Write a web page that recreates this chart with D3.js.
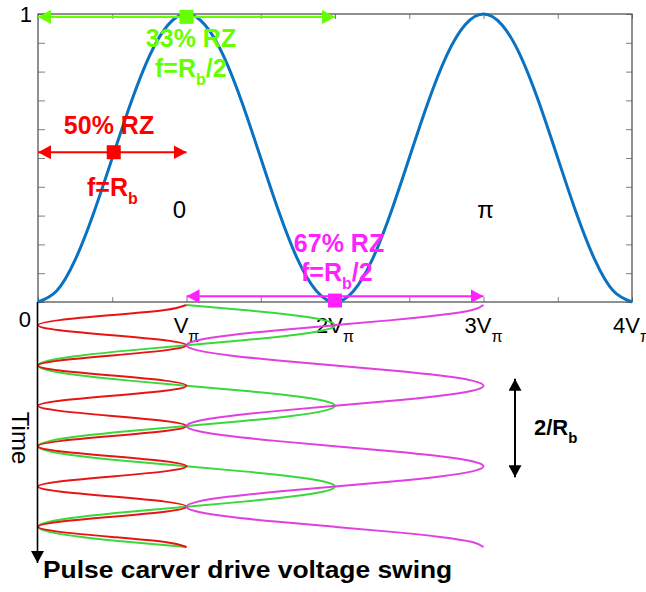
<!DOCTYPE html>
<html><head><meta charset="utf-8">
<script src="https://cdn.jsdelivr.net/npm/d3@7"></script>
<style>html,body{margin:0;padding:0;background:#fff;} svg{display:block;font-family:"Liberation Sans",Arial,sans-serif;}</style>
</head><body><svg id="c" width="646" height="592"></svg>
<script>
// ---- data: transfer function (drive voltage in units of Vpi -> normalised transmission)
const biasVoltage = [0,0.125,0.25,0.375,0.5,0.625,0.75,0.875,1,1.125,1.25,1.375,1.5,1.625,1.75,1.875,2,
  2.125,2.25,2.375,2.5,2.625,2.75,2.875,3,3.125,3.25,3.375,3.5,3.625,3.75,3.875,4];
const transmission = [0,0.038,0.146,0.309,0.5,0.691,0.854,0.962,1,0.962,0.854,0.691,0.5,0.309,0.146,0.038,0,
  0.038,0.146,0.309,0.5,0.691,0.854,0.962,1,0.962,0.854,0.691,0.5,0.309,0.146,0.038,0];

// ---- data: drive signals vs time (time in units of 1/Rb, voltage in units of Vpi)
const timeSamples = [0,0.125,0.25,0.375,0.5,0.625,0.75,0.875,1,1.125,1.25,1.375,1.5,1.625,1.75,1.875,
  2,2.125,2.25,2.375,2.5,2.625,2.75,2.875,3,3.125,3.25,3.375,3.5,3.625,3.75,3.875,
  4,4.125,4.25,4.375,4.5,4.625,4.75,4.875,5,5.125,5.25,5.375,5.5,5.625,5.75,5.875,6];
const drive50 = [1,0.854,0.5,0.146,0,0.146,0.5,0.854, 1,0.854,0.5,0.146,0,0.146,0.5,0.854,
  1,0.854,0.5,0.146,0,0.146,0.5,0.854, 1,0.854,0.5,0.146,0,0.146,0.5,0.854,
  1,0.854,0.5,0.146,0,0.146,0.5,0.854, 1,0.854,0.5,0.146,0,0.146,0.5,0.854, 1];
const drive33 = [1,1.383,1.707,1.924,2,1.924,1.707,1.383,1,0.617,0.293,0.076,0,0.076,0.293,0.617,
  1,1.383,1.707,1.924,2,1.924,1.707,1.383,1,0.617,0.293,0.076,0,0.076,0.293,0.617,
  1,1.383,1.707,1.924,2,1.924,1.707,1.383,1,0.617,0.293,0.076,0,0.076,0.293,0.617, 1];
const drive67 = [3,2.924,2.707,2.383,2,1.617,1.293,1.076,1,1.076,1.293,1.617,2,2.383,2.707,2.924,
  3,2.924,2.707,2.383,2,1.617,1.293,1.076,1,1.076,1.293,1.617,2,2.383,2.707,2.924,
  3,2.924,2.707,2.383,2,1.617,1.293,1.076,1,1.076,1.293,1.617,2,2.383,2.707,2.924, 3];

// ---- data: tick labels
const xTickValues = [0,1,2,3,4];
const xTickMain = ["0","V","2V","3V","4V"];
const xTickSub = ["","π","π","π","π"];
const yTickLabels = ["1"];

// ---- data: operating points (bias, transmission) and swing ranges
const opNames = ["33% RZ","50% RZ","67% RZ"];
const opFreq = ["Rb/2","Rb","Rb/2"];
const opBias = [1,0.51,2];
const opLevel = [0.99,0.52,0.005];
const swingFrom = [0,0,1];
const swingTo = [2,1,3];
const swingLevel = [0.99,0.52,0.02];

const svg = d3.select("#c");
const x = d3.scaleLinear().domain([0,4]).range([38,632]);
const y = d3.scaleLinear().domain([0,1]).range([302,14]);
const t = d3.scaleLinear().domain([0,6]).range([305,547]);

const cBlue = "#0a72c0", cGreenA = "#66ff00", cRedA = "#ff0000", cMagA = "#ff22ff";
const cGreenT = "#3ad83a", cRedT = "#e81414", cMagT = "#e040e0";

// defs: arrowheads
const defs = svg.append("defs");
function marker(id, color, len, wid){
  defs.append("marker").attr("id",id).attr("markerUnits","userSpaceOnUse")
    .attr("viewBox",`0 0 ${len} ${wid}`).attr("refX",len).attr("refY",wid/2)
    .attr("markerWidth",len).attr("markerHeight",wid).attr("orient","auto-start-reverse")
    .append("path").attr("d",`M0,0L${len},${wid/2}L0,${wid}Z`).attr("fill",color);
}
marker("ag",cGreenA,13,14); marker("ar",cRedA,13,14); marker("am",cMagA,13,14); marker("ak","#000",12,13);

// axes ticks (inward on all four sides)
const yTicks = d3.range(0,1.0001,0.1);
const xTicks = d3.range(0,4.0001,0.5);
const tickCol = "#808080";
function styleAxis(g){ g.select(".domain").remove(); g.selectAll("line").attr("stroke",tickCol).attr("stroke-width",1); }
svg.append("g").attr("transform",`translate(${x(0)},0)`).call(d3.axisLeft(y).tickValues(yTicks).tickSize(-7).tickFormat("")).call(styleAxis);
svg.append("g").attr("transform",`translate(${x(4)},0)`).call(d3.axisRight(y).tickValues(yTicks).tickSize(-6).tickFormat("")).call(styleAxis);
svg.append("g").attr("transform",`translate(0,${y(0)})`).call(d3.axisBottom(x).tickValues(xTicks).tickSize(-5).tickFormat("")).call(styleAxis);
svg.append("g").attr("transform",`translate(0,${y(1)})`).call(d3.axisTop(x).tickValues(xTicks).tickSize(-5).tickFormat("")).call(styleAxis);
svg.append("rect").attr("x",x(0)).attr("y",y(1)).attr("width",x(4)-x(0)).attr("height",y(0)-y(1))
  .attr("fill","none").attr("stroke","#555").attr("stroke-width",1.3);

// transfer curve
svg.append("path").datum(biasVoltage.map((v,i)=>[v,transmission[i]]))
  .attr("d",d3.line().x(d=>x(d[0])).y(d=>y(d[1])).curve(d3.curveNatural))
  .attr("fill","none").attr("stroke",cBlue).attr("stroke-width",3);

// tick labels
const fs = 22;
svg.append("text").attr("x",x(0)-6).attr("y",y(1)+8).attr("text-anchor","end").attr("font-size",fs).text(yTickLabels[0]);
xTickValues.forEach((v,i)=>{
  const tx = svg.append("text").attr("font-size",fs).attr("fill","#000");
  if(v===0){ tx.attr("x",x(0)-7).attr("y",327).attr("text-anchor","end").text(xTickMain[i]); return; }
  tx.attr("x",x(v)).attr("y",333).attr("text-anchor","middle");
  tx.append("tspan").text(xTickMain[i]);
  tx.append("tspan").attr("font-size",16).attr("dy",9).text(xTickSub[i]);
});

// phase labels
svg.append("text").attr("x",x(1)-7).attr("y",y(0.29)).attr("text-anchor","middle").attr("font-size",24).text("0");
svg.append("text").attr("x",x(3)+2).attr("y",y(0.29)).attr("text-anchor","middle").attr("font-size",24).text("π");

// swing arrows + operating point markers
const aCols = [cGreenA,cRedA,cMagA], aIds = ["ag","ar","am"];
opNames.forEach((n,i)=>{
  svg.append("line").attr("x1",x(swingFrom[i])).attr("x2",x(swingTo[i]))
    .attr("y1",y(swingLevel[i])).attr("y2",y(swingLevel[i]))
    .attr("stroke",aCols[i]).attr("stroke-width",2.2)
    .attr("marker-start",`url(#${aIds[i]})`).attr("marker-end",`url(#${aIds[i]})`);
  svg.append("rect").attr("x",x(opBias[i])-7).attr("y",y(opLevel[i])-7).attr("width",14).attr("height",14).attr("fill",aCols[i]);
});

function rzLabel(i, cx, nameY, fx, fY){
  svg.append("text").attr("x",cx).attr("y",nameY).attr("text-anchor","middle").attr("font-size",25)
    .attr("font-weight","bold").attr("fill",aCols[i]).text(opNames[i]);
  const f = svg.append("text").attr("x",fx).attr("y",fY).attr("font-size",25).attr("font-weight","bold").attr("fill",aCols[i]);
  const parts = opFreq[i].split("/");
  f.append("tspan").text("f=R");
  f.append("tspan").attr("font-size",16).attr("dy",8).text("b");
  if(parts.length>1) f.append("tspan").attr("dy",-8).text("/"+parts[1]);
}
rzLabel(0, 191, 47, 155, 77);
rzLabel(1, 109, 134, 87, 196);
rzLabel(2, 339, 252, 301, 281);

// ---- lower panel: drive signals vs time
const tl = d3.line().x(d=>x(d[0])).y(d=>t(d[1])).curve(d3.curveNatural);
[[drive33,cGreenT],[drive50,cRedT],[drive67,cMagT]].forEach(([arr,col])=>{
  svg.append("path").datum(arr.map((v,i)=>[v,timeSamples[i]])).attr("d",tl)
    .attr("fill","none").attr("stroke",col).attr("stroke-width",2);
});

// time axis
svg.append("line").attr("x1",37.5).attr("x2",37.5).attr("y1",302).attr("y2",563)
  .attr("stroke","#000").attr("stroke-width",1.6).attr("marker-end","url(#ak)");
svg.append("text").attr("transform",`translate(12,438) rotate(90)`).attr("text-anchor","middle")
  .attr("font-size",24).text("Time");
svg.append("text").attr("x",43).attr("y",578).attr("font-size",24).attr("font-weight","bold")
  .attr("transform","translate(43,0) scale(1.1,1) translate(-43,0)").text("Pulse carver drive voltage swing");

// 2/Rb period marker
svg.append("line").attr("x1",515).attr("x2",515).attr("y1",t(1.83)).attr("y2",t(4.27))
  .attr("stroke","#000").attr("stroke-width",2).attr("marker-start","url(#ak)").attr("marker-end","url(#ak)");
const pr = svg.append("text").attr("x",534).attr("y",435).attr("font-size",22).attr("font-weight","bold");
pr.append("tspan").text("2/R");
pr.append("tspan").attr("font-size",15).attr("dy",8).text("b");
</script></body></html>
